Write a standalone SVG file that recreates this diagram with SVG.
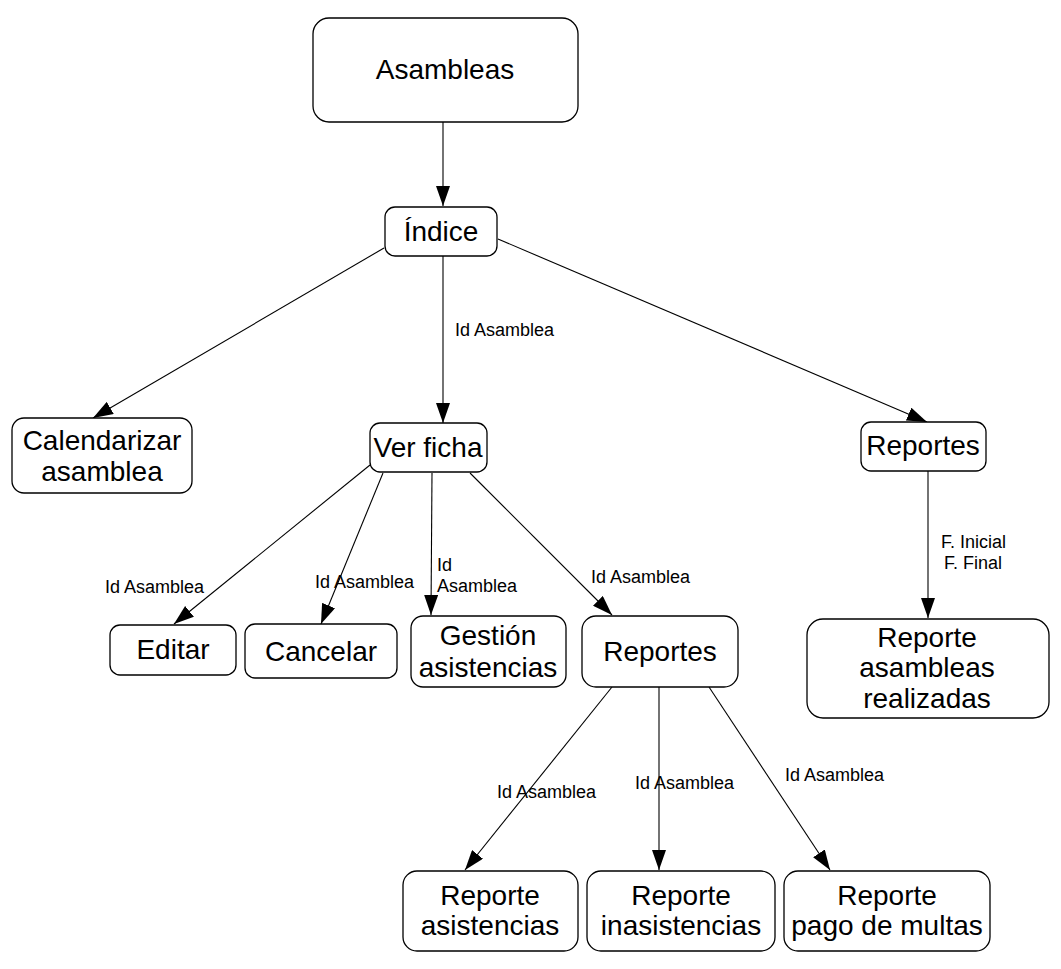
<svg xmlns="http://www.w3.org/2000/svg" width="1061" height="969" viewBox="0 0 1061 969">
<style>
.box{fill:#fff;stroke:#000;stroke-width:1.3}
.t{font-family:"Liberation Sans",Arial,sans-serif;font-size:28px;text-anchor:middle;fill:#000}
.l{font-family:"Liberation Sans",Arial,sans-serif;font-size:18px;fill:#000}
.c{stroke:#000;stroke-width:1.1;fill:none;marker-end:url(#ah)}
</style>
<defs>
<marker id="ah" markerUnits="userSpaceOnUse" markerWidth="20" markerHeight="14" refX="20" refY="7" orient="auto">
<path d="M0,0 L20,7 L0,14 z" fill="#000"/>
</marker>
</defs>
<rect width="1061" height="969" fill="#fff"/>
<g id="connectors">
<line class="c" x1="443" y1="122" x2="443" y2="206"/>
<line class="c" x1="384" y1="248" x2="93" y2="418"/>
<line class="c" x1="443" y1="256" x2="443" y2="423"/>
<line class="c" x1="498" y1="239" x2="927" y2="422"/>
<line class="c" x1="928" y1="471" x2="928" y2="618"/>
<line class="c" x1="370" y1="465" x2="174" y2="624"/>
<line class="c" x1="383" y1="473" x2="321" y2="624"/>
<line class="c" x1="432" y1="473" x2="431" y2="615"/>
<line class="c" x1="470" y1="473" x2="612" y2="615"/>
<line class="c" x1="612" y1="687" x2="465" y2="870"/>
<line class="c" x1="659" y1="687" x2="659" y2="870"/>
<line class="c" x1="709" y1="687" x2="830" y2="870"/>
<text class="l" x="455" y="336">Id Asamblea</text>
<text class="l" x="941" y="548">F. Inicial</text>
<text class="l" x="944" y="569">F. Final</text>
<text class="l" x="105" y="593">Id Asamblea</text>
<text class="l" x="315" y="588">Id Asamblea</text>
<text class="l" x="437" y="571">Id</text>
<text class="l" x="437" y="592">Asamblea</text>
<text class="l" x="591" y="583">Id Asamblea</text>
<text class="l" x="497" y="798">Id Asamblea</text>
<text class="l" x="635" y="789">Id Asamblea</text>
<text class="l" x="785" y="781">Id Asamblea</text>
</g>
<g id="asambleas"><rect class="box" x="313" y="18" width="265" height="104" rx="16"/><text class="t" x="445" y="79">Asambleas</text></g>
<g id="indice"><rect class="box" x="385" y="207" width="112" height="49" rx="10"/><text class="t" x="441" y="241">Índice</text></g>
<g id="calendarizar"><rect class="box" x="12" y="418" width="180" height="75" rx="12"/><text class="t" x="102" y="450">Calendarizar</text><text class="t" x="102" y="481">asamblea</text></g>
<g id="verficha"><rect class="box" x="370" y="423" width="117" height="49" rx="10"/><text class="t" x="428" y="457">Ver ficha</text></g>
<g id="reportes1"><rect class="box" x="861" y="422" width="125" height="49" rx="10"/><text class="t" x="923" y="455">Reportes</text></g>
<g id="editar"><rect class="box" x="110" y="625" width="126" height="50" rx="10"/><text class="t" x="173" y="659">Editar</text></g>
<g id="cancelar"><rect class="box" x="245" y="624" width="152" height="54" rx="10"/><text class="t" x="321" y="661">Cancelar</text></g>
<g id="gestion"><rect class="box" x="411" y="616" width="155" height="71" rx="12"/><text class="t" x="488" y="645">Gestión</text><text class="t" x="488" y="677">asistencias</text></g>
<g id="reportes2"><rect class="box" x="582" y="616" width="156" height="71" rx="14"/><text class="t" x="660" y="661">Reportes</text></g>
<g id="reporteasambleas"><rect class="box" x="807" y="619" width="242" height="99" rx="16"/><text class="t" x="927" y="647">Reporte</text><text class="t" x="927" y="677">asambleas</text><text class="t" x="927" y="708">realizadas</text></g>
<g id="reporteasistencias"><rect class="box" x="403" y="871" width="175" height="80" rx="14"/><text class="t" x="490" y="905">Reporte</text><text class="t" x="490" y="935">asistencias</text></g>
<g id="reporteinasistencias"><rect class="box" x="587" y="871" width="188" height="80" rx="14"/><text class="t" x="681" y="905">Reporte</text><text class="t" x="681" y="935">inasistencias</text></g>
<g id="reportepago"><rect class="box" x="784" y="871" width="206" height="80" rx="14"/><text class="t" x="887" y="905">Reporte</text><text class="t" x="887" y="935">pago de multas</text></g>
</svg>
